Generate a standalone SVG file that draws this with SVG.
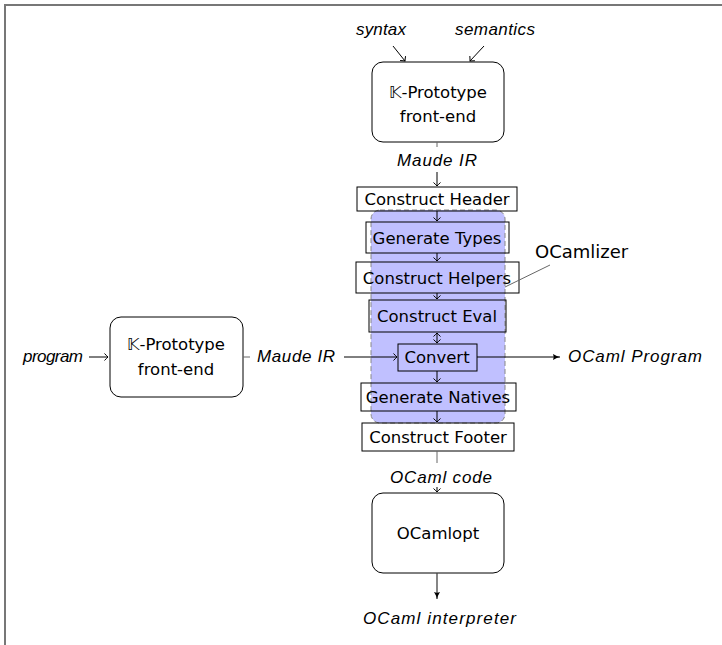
<svg xmlns="http://www.w3.org/2000/svg" width="722" height="645" viewBox="0 0 722 645">
<defs>
<marker id="tip" viewBox="-5 -5 6 10" refX="0" refY="0" markerWidth="6" markerHeight="10" markerUnits="userSpaceOnUse" orient="auto-start-reverse">
<path d="M-3.5,-3.5 Q-1,-0.8 0,0 Q-1,0.8 -3.5,3.5" fill="none" stroke="#000" stroke-width="1"/>
</marker>
<marker id="tri" viewBox="-8 -4 9 8" refX="0" refY="0" markerWidth="9" markerHeight="8" markerUnits="userSpaceOnUse" orient="auto">
<path d="M-7,-3 Q-3,-0.5 0,0 Q-3,0.5 -7,3 Q-5.5,0 -7,-3 z" fill="#000"/>
</marker>
</defs>
<style>
text{font-family:"DejaVu Sans","Liberation Sans",sans-serif;fill:#000}
.n{font-size:16.5px;text-anchor:middle}
.l{font-family:"Liberation Sans","DejaVu Sans",sans-serif;font-size:17px;font-style:italic}
.c{text-anchor:middle}
.box{fill:none;stroke:#000;stroke-width:1}
.rbox{fill:#fff;stroke:#000;stroke-width:1}
.ar{stroke:#000;stroke-width:1;fill:none;marker-end:url(#tip)}
.g{stroke:#666;stroke-width:1;fill:none}
</style>
<rect width="722" height="645" fill="#fff"/>
<path d="M5,645 V5 H722" fill="none" stroke="#777" stroke-width="2"/>

<g id="ocamlizer">
<rect x="371" y="210" width="134" height="213" rx="9" fill="#c0c0ff" stroke="#888" stroke-width="1" stroke-dasharray="5,3"/>
<text x="535" y="258" style="font-size:18px">OCamlizer</text>
</g>

<g id="frontend-top">
<rect class="rbox" x="372" y="62" width="132" height="80" rx="11"/>
<text class="n" x="438" y="98">&#x1D542;-Prototype</text>
<text class="n" x="438" y="122">front-end</text>
</g>
<g id="syntax"><text class="l" x="356" y="35" textLength="50" lengthAdjust="spacing">syntax</text></g>
<g id="semantics"><text class="l" x="455" y="35" textLength="80" lengthAdjust="spacing">semantics</text></g>
<g id="maude-top"><text class="l" x="397" y="166" textLength="80" lengthAdjust="spacing">Maude IR</text></g>

<g id="header"><rect class="box" x="357" y="187" width="160" height="24"/><text class="n" x="437" y="205">Construct Header</text></g>
<g id="types"><rect class="box" x="366" y="222" width="143" height="31"/><text class="n" x="437" y="244">Generate Types</text></g>
<g id="helpers"><rect class="box" x="356" y="262" width="163" height="31"/><text class="n" x="437" y="284">Construct Helpers</text></g>
<g id="eval"><rect class="box" x="369" y="300" width="137" height="32"/><text class="n" x="437" y="322">Construct Eval</text></g>
<g id="convert"><rect class="box" x="398" y="344" width="79" height="27"/><text class="n" x="437" y="363">Convert</text></g>
<g id="natives"><rect class="box" x="361" y="383" width="155" height="28"/><text class="n" x="438" y="403">Generate Natives</text></g>
<g id="footer"><rect class="box" x="362" y="423" width="152" height="28"/><text class="n" x="438" y="443">Construct Footer</text></g>

<g id="frontend-left">
<rect class="rbox" x="110" y="317" width="133" height="80" rx="11"/>
<text class="n" x="176" y="350">&#x1D542;-Prototype</text>
<text class="n" x="176" y="375">front-end</text>
</g>
<g id="program"><text class="l" x="23" y="362" textLength="60" lengthAdjust="spacing">program</text></g>
<g id="maude-left"><text class="l" x="257" y="362" textLength="78" lengthAdjust="spacing">Maude IR</text></g>
<g id="ocaml-program"><text class="l" x="568" y="362" textLength="134" lengthAdjust="spacing">OCaml Program</text></g>
<g id="ocaml-code"><text class="l" x="390" y="483" textLength="102" lengthAdjust="spacing">OCaml code</text></g>

<g id="ocamlopt">
<rect class="rbox" x="372" y="493" width="132" height="80" rx="11"/>
<text class="n" x="438" y="539">OCamlopt</text>
</g>
<g id="interpreter"><text class="l" x="363" y="624" textLength="153" lengthAdjust="spacing">OCaml interpreter</text></g>

<g id="connectors">
<line class="ar" x1="393" y1="46" x2="405" y2="61"/>
<line class="ar" x1="484" y1="46" x2="470" y2="61"/>
<line class="g" x1="437" y1="142" x2="437" y2="147"/>
<line class="ar" x1="437" y1="172" x2="437" y2="186"/>
<line class="ar" x1="437" y1="211" x2="437" y2="221"/>
<line class="ar" x1="437" y1="253" x2="437" y2="261"/>
<line class="ar" x1="437" y1="293" x2="437" y2="299"/>
<line class="ar" x1="437" y1="333" x2="437" y2="343" style="marker-start:url(#tip)"/>
<line class="ar" x1="437" y1="371" x2="437" y2="382"/>
<line class="ar" x1="437" y1="411" x2="437" y2="422"/>
<line class="g" x1="437" y1="451" x2="437" y2="463"/>
<line class="ar" x1="437" y1="487" x2="437" y2="492"/>
<line x1="437" y1="573" x2="437" y2="599" stroke="#444" stroke-width="1.3" marker-end="url(#tri)"/>
<line class="ar" x1="89" y1="357" x2="108" y2="357"/>
<line class="g" x1="243" y1="357" x2="250" y2="357"/>
<line class="ar" x1="344" y1="357" x2="397" y2="357"/>
<line x1="477" y1="357" x2="560" y2="357" stroke="#000" stroke-width="1" marker-end="url(#tri)"/>
<line class="g" x1="550" y1="265" x2="505" y2="287"/>
</g>
</svg>
